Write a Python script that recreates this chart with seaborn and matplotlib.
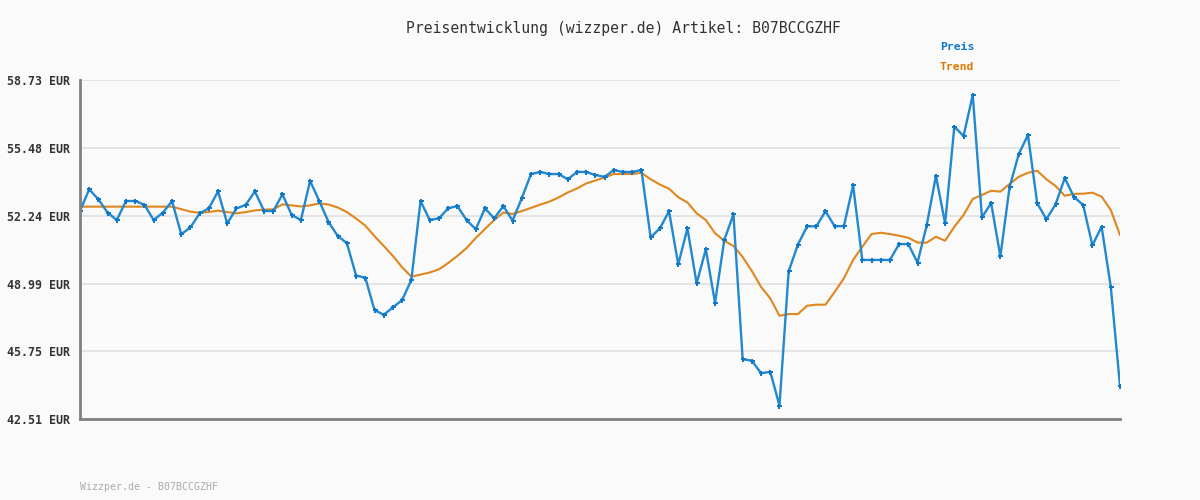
import numpy as np
import pandas as pd
import seaborn as sns
import matplotlib.pyplot as plt

# Preis (EUR), one value per data point
preis = [52.46, 53.50, 53.02, 52.38, 52.03, 52.94, 52.94, 52.76, 52.03, 52.38,
         52.94, 51.35, 51.68, 52.35, 52.59, 53.40, 51.87, 52.59, 52.75, 53.40,
         52.46, 52.46, 53.26, 52.27, 52.03, 53.90, 52.94, 51.94, 51.27, 50.92,
         49.37, 49.27, 47.72, 47.50, 47.85, 48.20, 49.16, 52.94, 52.03, 52.11,
         52.59, 52.70, 52.03, 51.59, 52.59, 52.11, 52.70, 52.00, 53.07, 54.23,
         54.33, 54.23, 54.23, 53.98, 54.33, 54.33, 54.18, 54.10, 54.42, 54.33,
         54.33, 54.42, 51.20, 51.63, 52.45, 49.91, 51.63, 49.00, 50.63, 48.07,
         51.07, 52.30, 45.37, 45.30, 44.70, 44.77, 43.15, 49.58, 50.85, 51.73,
         51.73, 52.45, 51.73, 51.74, 53.69, 50.12, 50.12, 50.12, 50.12, 50.88,
         50.88, 49.99, 51.78, 54.14, 51.87, 56.50, 56.05, 58.01, 52.16, 52.84,
         50.29, 53.60, 55.19, 56.10, 52.84, 52.07, 52.78, 54.04, 53.13, 52.75,
         50.82, 51.71, 48.83, 44.09]

trend = [52.67, 52.67, 52.67, 52.67, 52.67, 52.67, 52.67, 52.67, 52.67, 52.67,
         52.67, 52.55, 52.43, 52.38, 52.41, 52.48, 52.41, 52.35, 52.41, 52.49,
         52.53, 52.54, 52.78, 52.73, 52.68, 52.73, 52.83, 52.77, 52.63, 52.41,
         52.10, 51.76, 51.26, 50.79, 50.31, 49.77, 49.32, 49.42, 49.52, 49.67,
         49.97, 50.31, 50.69, 51.17, 51.60, 52.03, 52.39, 52.32, 52.46, 52.61,
         52.77, 52.91, 53.11, 53.35, 53.54, 53.78, 53.92, 54.07, 54.23, 54.23,
         54.23, 54.29, 53.98, 53.73, 53.53, 53.12, 52.87, 52.35, 52.03, 51.40,
         51.04, 50.79, 50.26, 49.59, 48.83, 48.28, 47.45, 47.53, 47.53, 47.93,
         47.98, 47.98, 48.59, 49.24, 50.12, 50.75, 51.36, 51.42, 51.36, 51.28,
         51.18, 50.95, 50.95, 51.23, 51.04, 51.71, 52.27, 53.04, 53.23, 53.43,
         53.39, 53.75, 54.10, 54.29, 54.39, 53.98, 53.66, 53.19, 53.28, 53.29,
         53.34, 53.15, 52.51, 51.31]

y_ticks = [42.51, 45.75, 48.99, 52.24, 55.48, 58.73]
artikel = 'B07BCCGZHF'

df = pd.DataFrame({'tag': np.arange(len(preis)), 'preis': preis, 'trend': trend})

sns.set_style('white')
plt.rcParams['font.family'] = ['DejaVu Sans Mono', 'DejaVu Sans']

blue = '#2288d0'
orange = '#e0861c'

fig = plt.figure(figsize=(12, 5), dpi=100, facecolor='#fafafa')
ax = fig.add_axes([80 / 1200, 81 / 500, 1040 / 1200, 339 / 500])
ax.set_facecolor('#fafafa')

sns.lineplot(data=df, x='tag', y='trend', ax=ax, color=orange, linewidth=1.5)
sns.lineplot(data=df, x='tag', y='preis', ax=ax, color=blue, linewidth=1.7,
             marker='P', markersize=3.6, markeredgewidth=0, markerfacecolor='#0f78c8')

ax.set_xlim(0, len(preis) - 1)
ax.set_ylim(y_ticks[0], y_ticks[-1])
ax.set_yticks(y_ticks)
ax.set_yticklabels(['%.2f EUR' % v for v in y_ticks], fontsize=8.4,
                   fontweight='bold', color='#333333')
ax.set_xticks([])
ax.set_xlabel('')
ax.set_ylabel('')
ax.tick_params(axis='y', length=0, pad=7)
ax.grid(axis='y', color='#e4e4e4', linewidth=1.5)
ax.set_axisbelow(True)
for s in ['top', 'right']:
    ax.spines[s].set_visible(False)
for s in ['left', 'bottom']:
    ax.spines[s].set_color('#808080')
    ax.spines[s].set_linewidth(2)

fig.text(623 / 1200, 1 - 28 / 500, 'Preisentwicklung (wizzper.de) Artikel: ' + artikel,
         ha='center', va='center', fontsize=10.6, color='#333333')
fig.text(940 / 1200, 1 - 47 / 500, 'Preis', ha='left', va='center',
         fontsize=8.2, fontweight='bold', color='#0f78c8')
fig.text(940 / 1200, 1 - 67 / 500, 'Trend', ha='left', va='center',
         fontsize=8.2, fontweight='bold', color='#dd7700')
fig.text(80 / 1200, 1 - 487 / 500, 'Wizzper.de - ' + artikel, ha='left', va='center',
         fontsize=7.1, color='#aaaaaa')

fig.savefig('out.png', dpi=100, facecolor='#fafafa')
